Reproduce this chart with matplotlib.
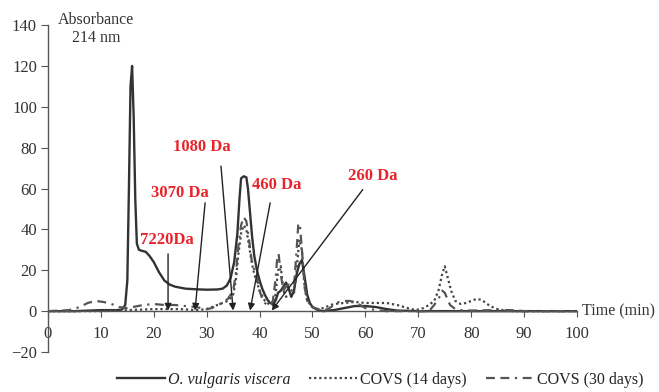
import matplotlib
matplotlib.use("Agg")
import matplotlib.pyplot as plt

plt.rcParams["font.family"] = ["Liberation Serif", "DejaVu Serif"]

# O. vulgaris viscera (solid)
T_VISCERA = [0, 5, 10, 13, 14, 14.6, 15.0, 15.3, 15.6, 15.9, 16.2, 16.5, 16.8, 17.2,
             17.8, 18.5, 19.2, 20, 21, 22, 23, 24, 25, 26, 28, 30, 32, 33, 33.8, 34.5,
             35.2, 35.8, 36.2, 36.5, 37, 37.5, 37.8, 38.2, 38.6, 39, 39.5, 40, 40.5, 41,
             41.5, 42, 42.5, 43, 43.5, 44, 44.5, 45, 45.5, 46, 46.5, 47, 47.5, 48, 48.5,
             49, 49.5, 50, 51, 52, 54, 56, 58, 60, 62, 64, 66, 70, 100]
A_VISCERA = [0, 0, 0.5, 0.5, 0.8, 3, 15, 60, 110, 120, 95, 55, 33, 30,
             29.5, 29, 27, 24, 19, 15, 13, 12, 11.5, 11, 10.7, 10.5, 10.6, 11, 12.5, 16,
             24, 38, 55, 65, 66, 65.5, 60, 48, 36, 27, 20, 15, 11, 8,
             5.5, 4, 3.5, 5, 9, 10, 12, 14, 11, 7, 10, 18, 23, 25, 17,
             8, 4, 2, 0.5, 0, 0.5, 1.5, 2.5, 2.5, 2, 1, 0.3, 0, 0]

# COVS (14 days) (dotted)
T_COVS14 = [0, 5, 10, 15, 20, 25, 28, 30, 31, 32, 33, 34, 35, 35.5, 36, 36.5, 37, 37.5,
            38, 38.5, 39, 39.5, 40, 41, 42, 42.5, 43, 43.5, 44, 44.5, 45, 46, 46.5, 47,
            47.5, 48, 48.5, 49, 50, 51, 52, 53, 54, 56, 58, 60, 62, 64, 66, 68, 69.5,
            71, 72, 73, 73.8, 74.5, 75, 75.5, 76.2, 77, 78, 79, 80, 81, 82, 83, 84, 85,
            86, 88, 100]
A_COVS14 = [0, 0, 0, 0.5, 1, 1, 0.5, 1, 2, 3, 4, 5, 8, 15, 28, 38, 42, 40,
            32, 24, 18, 14, 10, 5, 3, 3, 8, 20, 22, 10, 7, 9, 9, 20,
            35, 30, 12, 5, 2, 1, 1.5, 2.5, 3.5, 4, 4.5, 4, 4, 4, 3, 1.5, 0.5,
            1.5, 3, 5, 10, 18, 22, 17, 10, 5, 3.5, 4, 5, 6, 5.5, 3.5, 2, 1,
            0.5, 0, 0]

# COVS (30 days) (dash-dash-dot)
T_COVS30 = [0, 4, 6, 7.5, 9, 10.5, 12, 13.5, 15, 16, 18, 20, 22, 24, 26, 28, 29, 30, 31,
            32, 33, 34, 35, 35.5, 36, 36.5, 37, 37.5, 38, 38.5, 39, 39.5, 40, 40.5, 41,
            41.5, 42, 42.5, 43, 43.3, 43.6, 44, 44.5, 45, 45.5, 46, 46.5, 47, 47.3, 47.6,
            48, 48.5, 49, 50, 51, 52, 53, 54, 55, 56, 57, 58, 59, 60, 62, 64, 66, 68, 70,
            72, 73, 74, 74.5, 75, 75.5, 76, 77, 78, 80, 84, 88, 90, 100]
A_COVS30 = [0, 0.5, 2, 4, 5, 4.5, 3.5, 2, 1.5, 2, 3, 3.5, 3, 3, 2.5, 2, 1.5, 1, 1.5,
            3, 4, 6, 10, 18, 32, 42, 46, 44, 35, 25, 20, 16, 10, 6, 4,
            3, 3, 5, 15, 25, 28, 18, 10, 12, 13, 10, 12, 30, 42, 43,
            30, 12, 5, 2, 1, 0.5, 1, 3, 4.5, 5, 5, 4.5, 3, 1.5, 0.5, 0, 0, 0, 0,
            0, 3, 7, 10, 9, 6, 3, 1, 0.5, 0.3, 0.5, 0.5, 0, 0]

# molecular weight markers: label, text position, arrow start, arrow tip
MW_LABELS = ["7220Da", "3070 Da", "1080 Da", "460 Da", "260 Da"]
MW_TEXT_XY = [(22.5, 35), (24.9, 58), (29.0, 80.5), (43.2, 61.5), (61.3, 66)]
MW_ARROW_FROM = [(22.7, 28), (29.7, 53), (32.7, 71), (42.0, 53), (59.5, 59.5)]
MW_ARROW_TO = [(22.7, 0.3), (27.8, 0.3), (35.0, 0.3), (38.2, 0.3), (42.3, 0.3)]

X_TICKS = list(range(0, 101, 10))
Y_TICKS = list(range(-20, 141, 20))

fig = plt.figure(figsize=(6.59, 3.92), dpi=100)
ax = fig.add_axes([0.0728, 0.102, 0.8028, 0.834])

ax.plot(T_VISCERA, A_VISCERA, color="#333333", lw=1.7, label="O. vulgaris viscera")
ax.plot(T_COVS14, A_COVS14, color="#444444", lw=1.6, linestyle=(0, (1, 1.3)),
        label="COVS (14 days)")
ax.plot(T_COVS30, A_COVS30, color="#555555", lw=1.6,
        linestyle=(0, (4, 2.5, 4, 2.5, 1, 2.5)), label="COVS (30 days)")

for lab, txy, a0, a1 in zip(MW_LABELS, MW_TEXT_XY, MW_ARROW_FROM, MW_ARROW_TO):
    ax.text(txy[0], txy[1], lab, color="#e8232a", fontsize=12, fontweight="bold",
            ha="center", va="center")
    ax.annotate("", xy=a1, xytext=a0,
                arrowprops=dict(arrowstyle="-|>", color="#222222", lw=1.0,
                                mutation_scale=10, shrinkA=0, shrinkB=0))

ax.set_xlim(0, 100)
ax.set_ylim(-20, 140)
ax.spines["top"].set_visible(False)
ax.spines["right"].set_visible(False)
ax.spines["bottom"].set_position(("data", 0))
ax.spines["bottom"].set_bounds(0, 100)
ax.spines["left"].set_bounds(-20, 140)
for s in ("bottom", "left"):
    ax.spines[s].set_color("#555555")
    ax.spines[s].set_linewidth(1.0)

ax.set_xticks(X_TICKS)
ax.set_yticks(Y_TICKS)
ax.set_yticklabels(["\u221220" if v < 0 else str(v) for v in Y_TICKS])
ax.tick_params(axis="x", direction="out", length=4, pad=7, labelsize=12,
               colors="#555555", labelcolor="#333333")
ax.tick_params(axis="y", direction="out", length=5, pad=3, labelsize=12,
               colors="#555555", labelcolor="#333333")

ax.text(101, 0, "Time (min)", fontsize=11.5, color="#333333", ha="left",
        va="center", clip_on=False)
fig.text(0.146, 0.926, "Absorbance\n214 nm", fontsize=11.5, color="#333333",
         ha="center", va="center", linespacing=1.1)

leg = fig.legend(loc="center", bbox_to_anchor=(0.577, 0.031), ncol=3, frameon=False,
                 fontsize=11.5, handlelength=3.0, handletextpad=0.2,
                 columnspacing=1.2)
leg.get_texts()[0].set_fontstyle("italic")
for t in leg.get_texts():
    t.set_color("#222222")

fig.savefig("out.png", dpi=100, facecolor="white")
